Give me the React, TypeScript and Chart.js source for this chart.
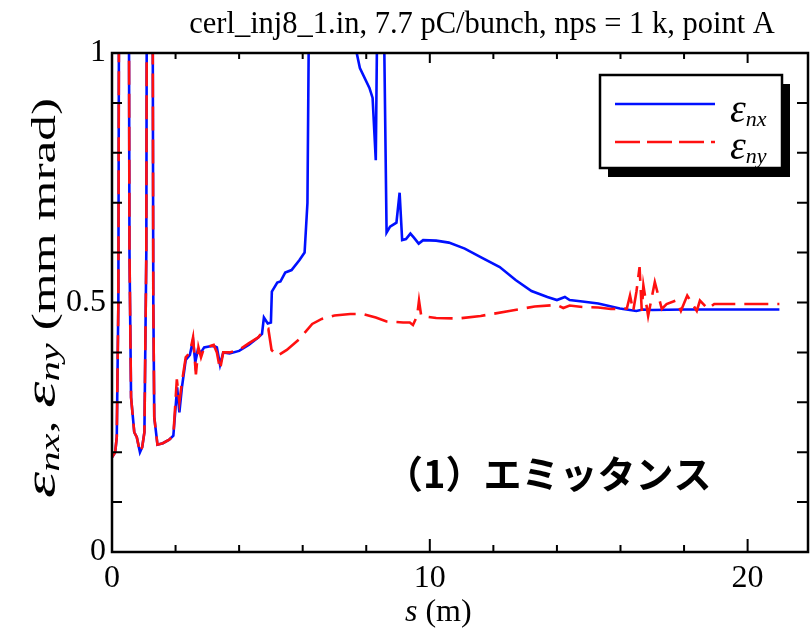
import React, { useEffect, useRef } from "react";
import { Chart, registerables } from "chart.js";

Chart.register(...registerables);

const TITLE = "cerl_inj8_1.in, 7.7 pC/bunch, nps = 1 k, point A";
const NOTE = "（1）エミッタンス";
const X_MIN = 0;
const X_MAX = 21.9;
const Y_MIN = 0;
const Y_MAX = 1;
const X_TICK_LABELS = [0, 10, 20];
const Y_TICK_LABELS = [0, 0.5, 1];

// ε_nx (blue, solid)
const sNx = [
  0.0, 0.1, 0.15, 0.2, 0.25, 0.5, 0.55, 0.6, 0.7, 0.78, 0.88, 0.95, 1.02, 1.08, 1.12, 1.25, 1.3, 1.33, 1.43,
  1.6, 1.8, 1.93, 2.05, 2.12, 2.2, 2.32, 2.45, 2.55, 2.62, 2.7, 2.8, 2.9, 3.05, 3.2, 3.3, 3.4, 3.5, 3.7,
  4.0, 4.3, 4.6, 4.72, 4.78, 4.9, 5.0, 5.03, 5.2, 5.3, 5.45, 5.65, 5.9, 6.06, 6.15, 6.2, 6.3, 7.6, 7.7,
  7.8, 8.1, 8.2, 8.3, 8.35, 8.4, 8.55, 8.64, 8.75, 8.95, 9.05, 9.13, 9.25, 9.39, 9.5, 9.65, 9.79, 10.2,
  10.6, 11.1, 11.6, 12.2, 12.7, 13.2, 13.7, 14.0, 14.25, 14.4, 14.8, 15.3, 15.98, 16.5, 16.7, 17.0, 18.0,
  19.0, 20.0, 21.0,
];
const emitNx = [
  0.19, 0.2, 0.23, 0.5, 2.0, 2.0, 0.6, 0.31, 0.24, 0.23, 0.2, 0.21, 0.24, 0.6, 2.0, 2.0, 0.5, 0.27, 0.215,
  0.218, 0.225, 0.233, 0.33, 0.28, 0.33, 0.385, 0.395, 0.425, 0.38, 0.405, 0.4, 0.41, 0.412, 0.413, 0.41,
  0.375, 0.4, 0.398, 0.403, 0.415, 0.43, 0.437, 0.47, 0.458, 0.46, 0.522, 0.54, 0.542, 0.56, 0.565, 0.585,
  0.6, 0.7, 1.1, 2.0, 2.0, 1.0, 0.97, 0.93, 0.91, 0.785, 1.1, 2.0, 1.1, 0.64, 0.652, 0.66, 0.72, 0.625,
  0.627, 0.638, 0.63, 0.618, 0.625, 0.624, 0.62, 0.608, 0.591, 0.571, 0.545, 0.523, 0.511, 0.505, 0.511,
  0.505, 0.502, 0.498, 0.488, 0.483, 0.486, 0.485, 0.486, 0.486, 0.486, 0.486,
];

// ε_ny (red, dashed)
const sNy = [
  0.0, 0.1, 0.15, 0.2, 0.25, 0.5, 0.55, 0.6, 0.7, 0.78, 0.88, 0.95, 1.02, 1.08, 1.12, 1.25, 1.3, 1.33, 1.43,
  1.6, 1.8, 1.93, 2.04, 2.12, 2.2, 2.32, 2.45, 2.55, 2.64, 2.72, 2.8, 2.9, 3.05, 3.2, 3.3, 3.4, 3.5, 3.7,
  4.0, 4.3, 4.6, 4.72, 4.85, 4.92, 5.02, 5.2, 5.5, 5.9, 6.3, 6.6, 7.0, 7.5, 7.9, 8.3, 8.64, 9.16, 9.37,
  9.47, 9.6, 9.66, 9.73, 10.2, 10.9, 11.6, 12.5, 13.3, 14.0, 14.2, 14.4, 14.8, 15.3, 15.7, 16.2, 16.3, 16.4,
  16.5, 16.6, 16.67, 16.72, 16.87, 17.08, 17.3, 17.45, 17.75, 17.9, 18.1, 18.4, 18.5, 18.75, 18.95, 21.0,
];
const emitNy = [
  0.19, 0.2, 0.23, 0.5, 2.0, 2.0, 0.6, 0.31, 0.24, 0.23, 0.2, 0.21, 0.24, 0.6, 2.0, 2.0, 0.5, 0.27, 0.215,
  0.218, 0.225, 0.233, 0.346, 0.3, 0.34, 0.39, 0.4, 0.43, 0.356, 0.41, 0.39, 0.41, 0.412, 0.415, 0.4,
  0.366, 0.4, 0.4, 0.405, 0.418, 0.43, 0.44, 0.445, 0.447, 0.405, 0.393, 0.405, 0.427, 0.457, 0.467, 0.474,
  0.477, 0.477, 0.47, 0.462, 0.46, 0.46, 0.455, 0.473, 0.504, 0.473, 0.469, 0.468, 0.473, 0.483, 0.492,
  0.495, 0.489, 0.494, 0.491, 0.49, 0.487, 0.488, 0.514, 0.483, 0.521, 0.571, 0.483, 0.534, 0.473, 0.541,
  0.487, 0.497, 0.504, 0.483, 0.514, 0.483, 0.504, 0.487, 0.497, 0.497,
];

const SERIF = "'Liberation Serif', 'Times New Roman', serif";
const BLUE = "#0010ff";
const RED = "#ff1010";

type Run = { text: string; font: string; dy?: number };

function runsWidth(ctx: CanvasRenderingContext2D, runs: Run[]) {
  let w = 0;
  for (const r of runs) {
    ctx.font = r.font;
    w += ctx.measureText(r.text).width;
  }
  return w;
}

function drawRuns(ctx: CanvasRenderingContext2D, runs: Run[], x: number, y: number, align: "left" | "center") {
  const total = runsWidth(ctx, runs);
  let cx = align === "center" ? x - total / 2 : x;
  ctx.textAlign = "left";
  ctx.textBaseline = "alphabetic";
  for (const r of runs) {
    ctx.font = r.font;
    ctx.fillText(r.text, cx, y + (r.dy || 0));
    cx += ctx.measureText(r.text).width;
  }
}

const decorPlugin = {
  id: "decor",
  afterDraw(chart: any) {
    const { ctx, chartArea: a, scales } = chart;
    const xs = scales.x;
    const ys = scales.y;
    ctx.save();
    ctx.strokeStyle = "#000";
    ctx.fillStyle = "#000";
    ctx.lineWidth = 2.5;
    ctx.setLineDash([]);
    ctx.strokeRect(a.left, a.top, a.right - a.left, a.bottom - a.top);

    // inward tick marks
    ctx.lineWidth = 2;
    ctx.beginPath();
    for (let i = 0; i * 2 <= X_MAX; i++) {
      const v = i * 2;
      const px = xs.getPixelForValue(v);
      const len = v % 10 === 0 ? 13 : 7;
      ctx.moveTo(px, a.bottom);
      ctx.lineTo(px, a.bottom - len);
      ctx.moveTo(px, a.top);
      ctx.lineTo(px, a.top + (v % 10 === 0 ? 10 : 6));
    }
    for (let i = 0; i <= 10; i++) {
      const py = ys.getPixelForValue(i / 10);
      ctx.moveTo(a.left, py);
      ctx.lineTo(a.left + 10, py);
      ctx.moveTo(a.right, py);
      ctx.lineTo(a.right - 11, py);
    }
    ctx.stroke();

    // title
    ctx.fillStyle = "#000";
    drawRuns(ctx, [{ text: TITLE, font: `30.5px ${SERIF}` }], 482, 33, "center");

    // x axis title
    drawRuns(
      ctx,
      [
        { text: "s", font: `italic 32px ${SERIF}` },
        { text: " (m)", font: `32px ${SERIF}` },
      ],
      405,
      621,
      "left"
    );

    // y axis title (rotated)
    const yRuns: Run[] = [
      { text: "ε", font: `italic 44px ${SERIF}` },
      { text: "nx", font: `italic 27px ${SERIF}`, dy: 4 },
      { text: ", ", font: `34px ${SERIF}` },
      { text: "ε", font: `italic 44px ${SERIF}` },
      { text: "ny", font: `italic 27px ${SERIF}`, dy: 4 },
      { text: " (mm mrad)", font: `34px ${SERIF}` },
    ];
    const yTotal = runsWidth(ctx, yRuns);
    const stretch = 400 / yTotal;
    ctx.save();
    ctx.translate(55, 298);
    ctx.rotate(-Math.PI / 2);
    ctx.scale(stretch, 1);
    drawRuns(ctx, yRuns, 0, 0, "center");
    ctx.restore();

    // legend with drop shadow
    const lx = 600, ly = 75, lw = 182, lh = 93;
    ctx.fillStyle = "#000";
    ctx.fillRect(lx + 8, ly + 9, lw, lh);
    ctx.fillStyle = "#fff";
    ctx.fillRect(lx, ly, lw, lh);
    ctx.strokeStyle = "#000";
    ctx.lineWidth = 2.5;
    ctx.strokeRect(lx, ly, lw, lh);

    ctx.lineWidth = 2.5;
    ctx.strokeStyle = BLUE;
    ctx.beginPath();
    ctx.moveTo(615, 104);
    ctx.lineTo(715, 104);
    ctx.stroke();
    ctx.strokeStyle = RED;
    ctx.setLineDash([25, 7]);
    ctx.beginPath();
    ctx.moveTo(615, 142);
    ctx.lineTo(715, 142);
    ctx.stroke();
    ctx.setLineDash([]);

    ctx.fillStyle = "#000";
    drawRuns(
      ctx,
      [
        { text: "ε", font: `italic 40px ${SERIF}` },
        { text: "nx", font: `italic 22px ${SERIF}`, dy: 4 },
      ],
      730,
      122,
      "left"
    );
    drawRuns(
      ctx,
      [
        { text: "ε", font: `italic 40px ${SERIF}` },
        { text: "ny", font: `italic 22px ${SERIF}`, dy: 4 },
      ],
      730,
      159,
      "left"
    );

    // Japanese annotation
    ctx.fillStyle = "#000";
    ctx.font = `bold 38px 'Noto Sans CJK JP', sans-serif`;
    ctx.textAlign = "left";
    ctx.textBaseline = "alphabetic";
    ctx.fillText(NOTE, 385, 488);

    ctx.restore();
  },
};

function isLabel(v: number, list: number[]) {
  return list.some((t) => Math.abs(t - v) < 1e-9);
}

export default function App() {
  const ref = useRef<HTMLCanvasElement | null>(null);

  useEffect(() => {
    if (!ref.current) return;
    const chart = new Chart(ref.current, {
      type: "line",
      data: {
        datasets: [
          {
            label: "ε_nx",
            data: sNx.map((x, i) => ({ x, y: emitNx[i] })),
            borderColor: BLUE,
            borderWidth: 2.6,
            pointRadius: 0,
            fill: false,
            tension: 0,
            order: 1,
          },
          {
            label: "ε_ny",
            data: sNy.map((x, i) => ({ x, y: emitNy[i] })),
            borderColor: RED,
            borderWidth: 2.6,
            borderDash: [24, 9],
            pointRadius: 0,
            fill: false,
            tension: 0,
            order: 0,
          },
        ],
      },
      options: {
        responsive: false,
        maintainAspectRatio: false,
        animation: false,
        layout: { padding: { top: 53, right: 3, left: 0, bottom: 0 } },
        plugins: {
          legend: { display: false },
          tooltip: { enabled: false },
          title: { display: false },
        },
        scales: {
          x: {
            type: "linear",
            min: X_MIN,
            max: X_MAX,
            grid: { display: false, drawTicks: false },
            border: { display: false },
            ticks: {
              stepSize: 2,
              includeBounds: false,
              autoSkip: false,
              maxRotation: 0,
              padding: 7,
              color: "#000",
              font: { family: SERIF, size: 32 },
              callback: (v: any) => (isLabel(Number(v), X_TICK_LABELS) ? String(v) : ""),
            },
            afterFit: (s: any) => {
              s.height = 77;
            },
          },
          y: {
            type: "linear",
            min: Y_MIN,
            max: Y_MAX,
            grid: { display: false, drawTicks: false },
            border: { display: false },
            ticks: {
              stepSize: 0.1,
              autoSkip: false,
              padding: 6,
              color: "#000",
              font: { family: SERIF, size: 32 },
              callback: (v: any) => (isLabel(Number(v), Y_TICK_LABELS) ? String(Number(v)) : ""),
            },
            afterFit: (s: any) => {
              s.width = 112;
            },
          },
        },
      },
      plugins: [decorPlugin],
    });
    return () => chart.destroy();
  }, []);

  return (
    <div style={{ position: "fixed", left: 0, top: 0, width: 811, height: 629, background: "#fff" }}>
      <canvas ref={ref} width={811} height={629} style={{ display: "block" }} />
    </div>
  );
}
